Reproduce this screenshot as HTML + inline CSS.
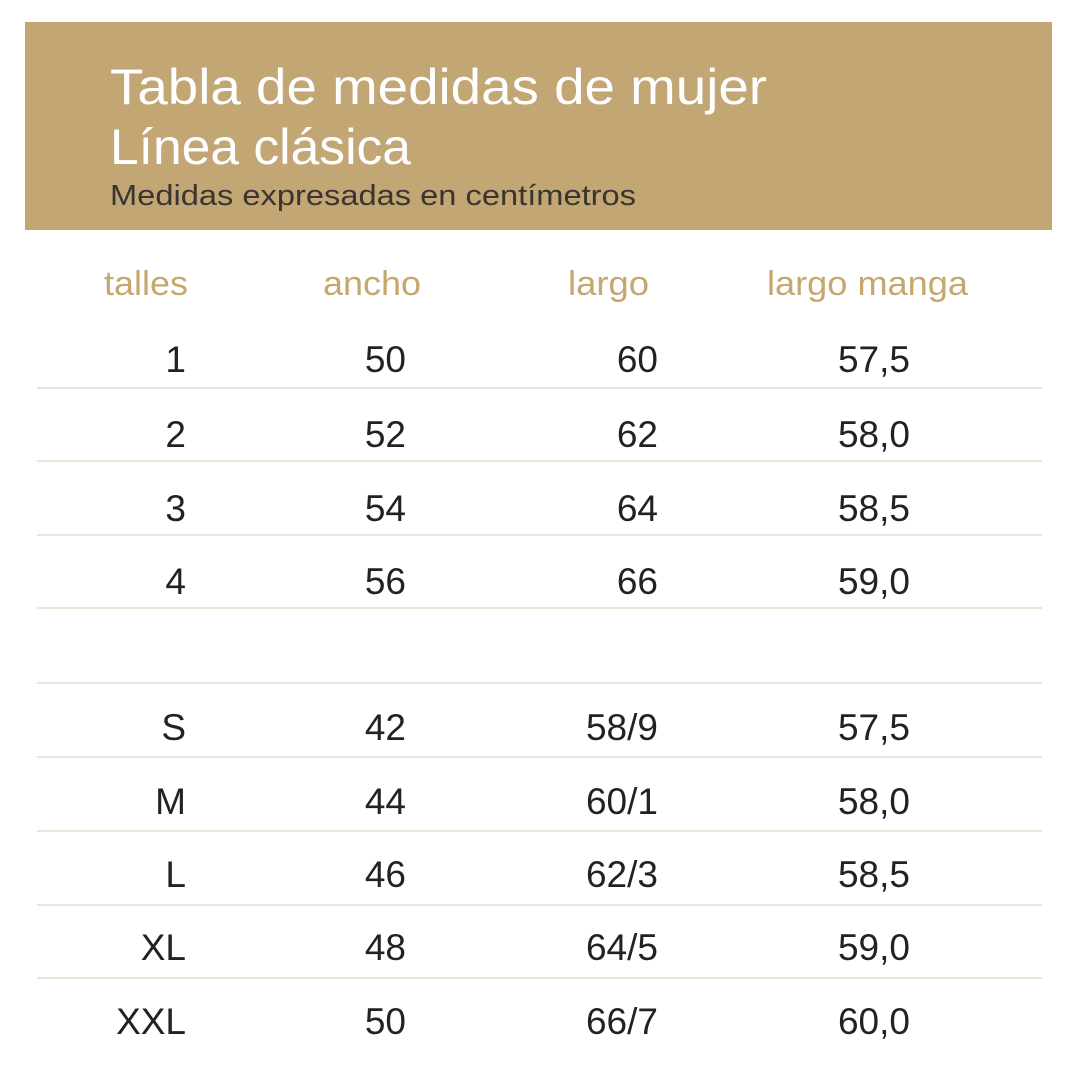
<!DOCTYPE html>
<html><head><meta charset="utf-8"><style>
html,body{margin:0;padding:0;background:#fff}
svg{display:block}
text{font-family:"Liberation Sans",sans-serif}
</style></head><body>
<svg width="1075" height="1066" viewBox="0 0 1075 1066">
<rect x="25" y="22" width="1027" height="208" fill="#c2a674"/>
<text x="110" y="104" font-size="50" fill="#fff" textLength="657" lengthAdjust="spacingAndGlyphs">Tabla de medidas de mujer</text>
<text x="110" y="164" font-size="50" fill="#fff" textLength="301" lengthAdjust="spacingAndGlyphs">Línea clásica</text>
<text x="110" y="205" font-size="29" fill="#3a3530" textLength="526" lengthAdjust="spacingAndGlyphs">Medidas expresadas en centímetros</text>
<g font-size="34" fill="#c6a76e">
<text x="104" y="295" textLength="84" lengthAdjust="spacingAndGlyphs">talles</text>
<text x="323" y="295" textLength="98" lengthAdjust="spacingAndGlyphs">ancho</text>
<text x="568" y="295" textLength="81" lengthAdjust="spacingAndGlyphs">largo</text>
<text x="767" y="295" textLength="201" lengthAdjust="spacingAndGlyphs">largo manga</text>
</g>
<g id="rows"></g>
</svg>
<script>
const talles=["1","2","3","4","S","M","L","XL","XXL"];
const ancho=["50","52","54","56","42","44","46","48","50"];
const largo=["60","62","64","66","58/9","60/1","62/3","64/5","66/7"];
const manga=["57,5","58,0","58,5","59,0","57,5","58,0","58,5","59,0","60,0"];
const ys=[372,447,521,594,740,814,887,960,1034];
const lines=[388,461,535,608,683,757,831,905,978];
const g=document.getElementById('rows');
const ns='http://www.w3.org/2000/svg';
lines.forEach(y=>{
 const l=document.createElementNS(ns,'line');
 l.setAttribute('x1',37);l.setAttribute('x2',1042);l.setAttribute('y1',y);l.setAttribute('y2',y);
 l.setAttribute('stroke','#e6dcc6');l.setAttribute('stroke-width','1.5');
 
 
 g.appendChild(l);
});
const cols=[[talles,186],[ancho,406],[largo,658],[manga,910]];
const names=['talle','ancho','largo','largo-manga'];
talles.forEach((_,i)=>{
 cols.forEach(([arr,x],c)=>{
  const t=document.createElementNS(ns,'text');
  t.setAttribute('x',x);t.setAttribute('y',ys[i]);
  t.setAttribute('text-anchor','end');t.setAttribute('font-size','37');t.setAttribute('fill','#222');
  t.textContent=arr[i];
  
  
  g.appendChild(t);
 });
});
</script>
</body></html>
